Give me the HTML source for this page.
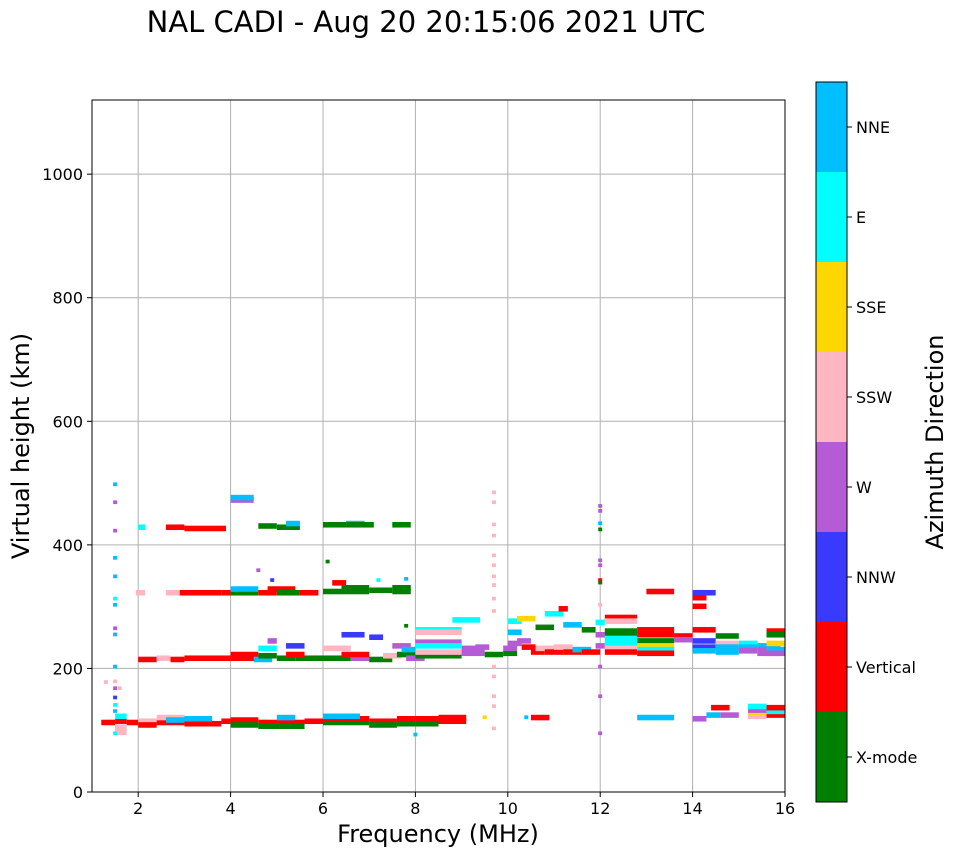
<!DOCTYPE html>
<html><head><meta charset="utf-8">
<style>
body{margin:0;background:#fff;font-family:"DejaVu Sans",sans-serif;}
svg text{font-family:"DejaVu Sans",sans-serif;}
</style></head>
<body>
<svg id="chart" width="958" height="857" xmlns="http://www.w3.org/2000/svg">
<text x="426" y="32" font-size="29" text-anchor="middle">NAL CADI - Aug 20 20:15:06 2021 UTC</text>
<g id="grid"></g>
<g id="marks"></g>
<rect x="92" y="100" width="693" height="692" fill="none" stroke="#000" stroke-width="1"/>
<g id="axes"></g>
<text x="438" y="842" font-size="24" text-anchor="middle">Frequency (MHz)</text>
<text transform="translate(29,446) rotate(-90)" font-size="24" text-anchor="middle">Virtual height (km)</text>
<g id="colorbar"></g>
<text transform="translate(943,442) rotate(-90)" font-size="24" text-anchor="middle">Azimuth Direction</text>
</svg>
<script>
const directions = ["X-mode","Vertical","NNW","W","SSW","SSE","E","NNE"];
const dirColors = ["#008000","#ff0000","#3a3aff","#b65bd6","#ffb6c1","#ffd700","#00ffff","#00bfff"];
const xTicks = [2,4,6,8,10,12,14,16];
const yTicks = [0,200,400,600,800,1000];
// traces: [freqStart, freqEnd, virtualHeight(km), directionIndex]
const traces = [
 [1.2,1.5,108,1],[1.5,1.75,110,1],[1.5,1.75,118,6],[1.5,1.75,100,4],[1.5,1.75,92,4],[1.75,2.0,108,1],[2.0,2.4,110,4],[2.0,2.4,104,1],[2.4,3.0,108,1],[2.4,3.0,116,4],[2.6,3.2,112,7],[3.0,3.8,106,1],[3.0,3.6,114,7],[3.8,4.0,110,1],
 [4.0,4.6,112,1],[4.0,4.6,104,0],[4.6,5.6,108,1],[4.6,5.6,102,0],[5.0,5.4,116,7],[5.6,6.0,110,1],[6.0,7.0,108,0],[6.0,7.0,114,1],[6.0,6.8,118,7],[7.0,7.6,110,1],[7.0,7.6,104,0],[7.6,8.0,114,1],[7.6,8.0,106,0],[8.0,8.5,106,0],[8.0,8.5,114,1],[8.5,9.1,110,1],[8.5,9.1,116,1],
 [10.5,10.9,116,1],[12.8,13.6,116,7],[14.0,14.3,114,3],[14.3,14.6,120,7],[14.4,14.8,132,1],[14.6,15.0,120,3],[15.2,15.6,118,4],[15.2,15.6,124,5],[15.2,15.6,128,3],[15.2,15.6,134,6],[15.6,16.0,120,1],[15.6,16.0,126,6],[15.6,16.0,132,1],
 [2.0,2.4,210,1],[2.4,2.7,212,4],[2.7,3.0,210,1],[3.0,4.0,212,1],[4.0,4.6,212,1],[4.0,4.6,218,1],[4.5,4.9,210,7],[4.6,5.0,216,0],[5.0,5.4,212,0],[5.4,6.0,212,0],[5.2,5.6,218,1],[6.0,6.6,212,0],[6.6,7.0,212,3],[6.4,7.0,218,1],[7.0,7.5,210,0],[7.3,7.7,216,4],[7.6,8.0,218,0],[7.8,8.2,212,3],[8.0,9.0,216,0],[8.0,9.0,222,4],[9.0,9.5,220,3],[9.0,9.5,228,3],[9.5,9.9,218,0],[9.3,9.6,230,3],
 [4.6,5.0,228,6],[4.8,5.0,240,3],[5.2,5.6,232,2],[6.0,6.6,228,4],[6.4,6.9,250,2],[7.0,7.3,246,2],[7.5,7.9,232,3],[8.0,9.0,258,6],[8.0,9.0,254,4],[8.0,9.0,238,3],[8.0,9.0,232,6],[8.8,9.4,274,6],[7.7,8.0,226,7],
 [9.9,10.2,220,0],[9.9,10.2,228,3],[10.0,10.3,236,3],[10.0,10.3,254,7],[10.2,10.5,240,3],[10.3,10.6,230,1],[10.5,10.8,222,1],[10.6,11.0,228,4],[10.8,11.2,222,1],[11.0,11.4,230,4],[11.2,11.6,222,1],[11.4,11.8,226,7],[11.6,12.0,222,1],[10.0,10.3,272,6],[10.2,10.6,276,5],[10.6,11.0,262,0],[10.8,11.2,284,6],[11.1,11.3,292,1],[11.2,11.6,266,7],[11.6,11.9,258,0],[11.9,12.1,270,6],[11.9,12.1,250,3],[11.9,12.1,232,3],
 [12.1,12.8,278,1],[12.1,12.8,272,4],[12.1,12.8,256,0],[12.1,12.8,250,0],[12.1,12.8,244,6],[12.1,12.8,236,6],[12.1,12.8,228,4],[12.1,12.8,222,1],[12.8,13.6,258,1],[12.8,13.6,250,1],[12.8,13.6,240,0],[12.8,13.6,232,5],[12.8,13.6,226,6],[12.8,13.6,220,1],[13.0,13.6,320,1],
 [13.6,14.0,248,1],[13.6,14.0,242,3],[14.0,14.5,258,1],[14.0,14.5,240,2],[14.0,14.5,230,2],[14.0,14.5,224,7],[14.0,14.3,310,1],[14.0,14.3,296,1],[14.0,14.5,318,2],[14.5,15.0,248,0],[14.5,15.0,236,4],[14.5,15.0,230,7],[14.5,15.0,222,7],[15.0,15.4,236,6],[15.0,15.4,230,7],[15.0,15.4,224,3],[15.4,15.9,232,7],[15.4,15.9,226,3],[15.4,15.9,220,3],[15.6,16.0,256,1],[15.6,16.0,250,0],[15.6,16.0,236,5],[15.6,16.0,226,7],[15.6,16.0,220,3],
 [1.95,2.15,318,4],[2.6,2.9,318,4],[2.9,3.8,318,1],[3.8,4.0,318,1],[4.0,4.6,318,0],[4.0,4.6,324,7],[4.6,5.0,318,1],[4.8,5.4,324,1],[5.0,5.5,318,0],[5.5,5.9,318,1],[6.0,6.4,320,0],[6.4,7.0,326,0],[6.2,6.5,334,1],[6.4,7.0,320,0],[7.0,7.5,322,0],[7.5,7.9,326,0],[7.5,7.9,320,0],
 [2.0,2.15,424,6],[2.6,3.0,424,1],[3.0,3.9,422,1],[4.6,5.0,426,0],[5.0,5.5,424,0],[5.2,5.5,430,7],[6.0,6.5,428,0],[6.5,6.9,430,7],[6.5,7.1,428,0],[7.5,7.9,428,0],[4.0,4.5,468,3],[4.0,4.5,472,7]
];
// isolated spread echoes: [frequency, height, directionIndex]
const dots = [
 [1.5,495,7],[1.5,466,3],[1.5,420,3],[1.5,376,7],[1.5,346,7],[1.5,310,6],[1.5,300,7],[1.5,262,3],[1.5,252,7],[1.5,200,7],[1.5,176,4],[1.5,165,3],[1.5,150,2],[1.5,138,6],[1.5,128,7],[1.6,165,4],[1.3,175,4],[1.5,92,6],
 [9.7,482,4],[9.7,466,4],[9.7,430,4],[9.7,412,4],[9.7,380,4],[9.7,364,4],[9.7,346,4],[9.7,332,4],[9.7,310,4],[9.7,290,4],[9.7,200,4],[9.7,184,4],[9.7,152,4],[9.7,136,4],[9.7,100,4],
 [12.0,460,3],[12.0,452,3],[12.0,432,7],[12.0,422,0],[12.0,372,3],[12.0,364,3],[12.0,340,1],[12.0,336,0],[12.0,300,4],[12.0,200,3],[12.0,152,3],[12.0,92,3],[6.1,370,0],[4.6,356,3],[4.9,340,2],[7.2,340,6],[7.8,342,7],[7.8,266,0],[8.0,90,7],[9.5,118,5],[10.4,118,7]
];
const xs = f => 92 + (f - 1) * (693 / 15);
const ys = h => 792 - h * (692 / 1120);
const NS = "http://www.w3.org/2000/svg";
function mk(parent, tag, attrs){const e=document.createElementNS(NS,tag);for(const k in attrs)e.setAttribute(k,attrs[k]);parent.appendChild(e);return e;}
const grid=document.getElementById('grid'), marks=document.getElementById('marks'), axes=document.getElementById('axes'), cb=document.getElementById('colorbar');
xTicks.forEach(t=>{
  if(t<16){const l=mk(grid,'line',{x1:xs(t),x2:xs(t),y1:100,y2:792,stroke:'#b0b0b0','stroke-width':1});
  
  }
  mk(axes,'line',{x1:xs(t),x2:xs(t),y1:792,y2:797,stroke:'#000'});
  const tx=mk(axes,'text',{x:xs(t),y:814,'font-size':16,'text-anchor':'middle'});tx.textContent=t;
  
  
});
yTicks.forEach(t=>{
  if(t>0){const l=mk(grid,'line',{x1:92,x2:785,y1:ys(t),y2:ys(t),stroke:'#b0b0b0','stroke-width':1});
  
  }
  mk(axes,'line',{x1:87,x2:92,y1:ys(t),y2:ys(t),stroke:'#000'});
  const tx=mk(axes,'text',{x:83,y:ys(t)+6,'font-size':16,'text-anchor':'end'});tx.textContent=t;
  
  
});
traces.forEach(s=>{
  const r=mk(marks,'rect',{x:xs(s[0]),width:xs(s[1])-xs(s[0]),y:ys(s[2]+9),height:ys(s[2])-ys(s[2]+9),fill:dirColors[s[3]]});
  
  
});
dots.forEach(d=>{
  const r=mk(marks,'rect',{x:xs(d[0])-2,width:4,y:ys(d[1]+6),height:ys(d[1])-ys(d[1]+6),fill:dirColors[d[2]]});
  
  
});
const cbTop=82, cbH=720, seg=cbH/directions.length;
directions.forEach((d,i)=>{
  const y=cbTop+cbH-(i+1)*seg;
  const r=mk(cb,'rect',{x:816,y:y,width:31,height:seg,fill:dirColors[i]});
  
  
  mk(cb,'line',{x1:847,x2:852,y1:y+seg/2,y2:y+seg/2,stroke:'#000'});
  const tx=mk(cb,'text',{x:856,y:y+seg/2+6,'font-size':16});tx.textContent=d;
  
  
});
const fr=mk(cb,'rect',{x:816,y:cbTop,width:31,height:cbH,fill:'none',stroke:'#000'});


</script>
</body></html>
